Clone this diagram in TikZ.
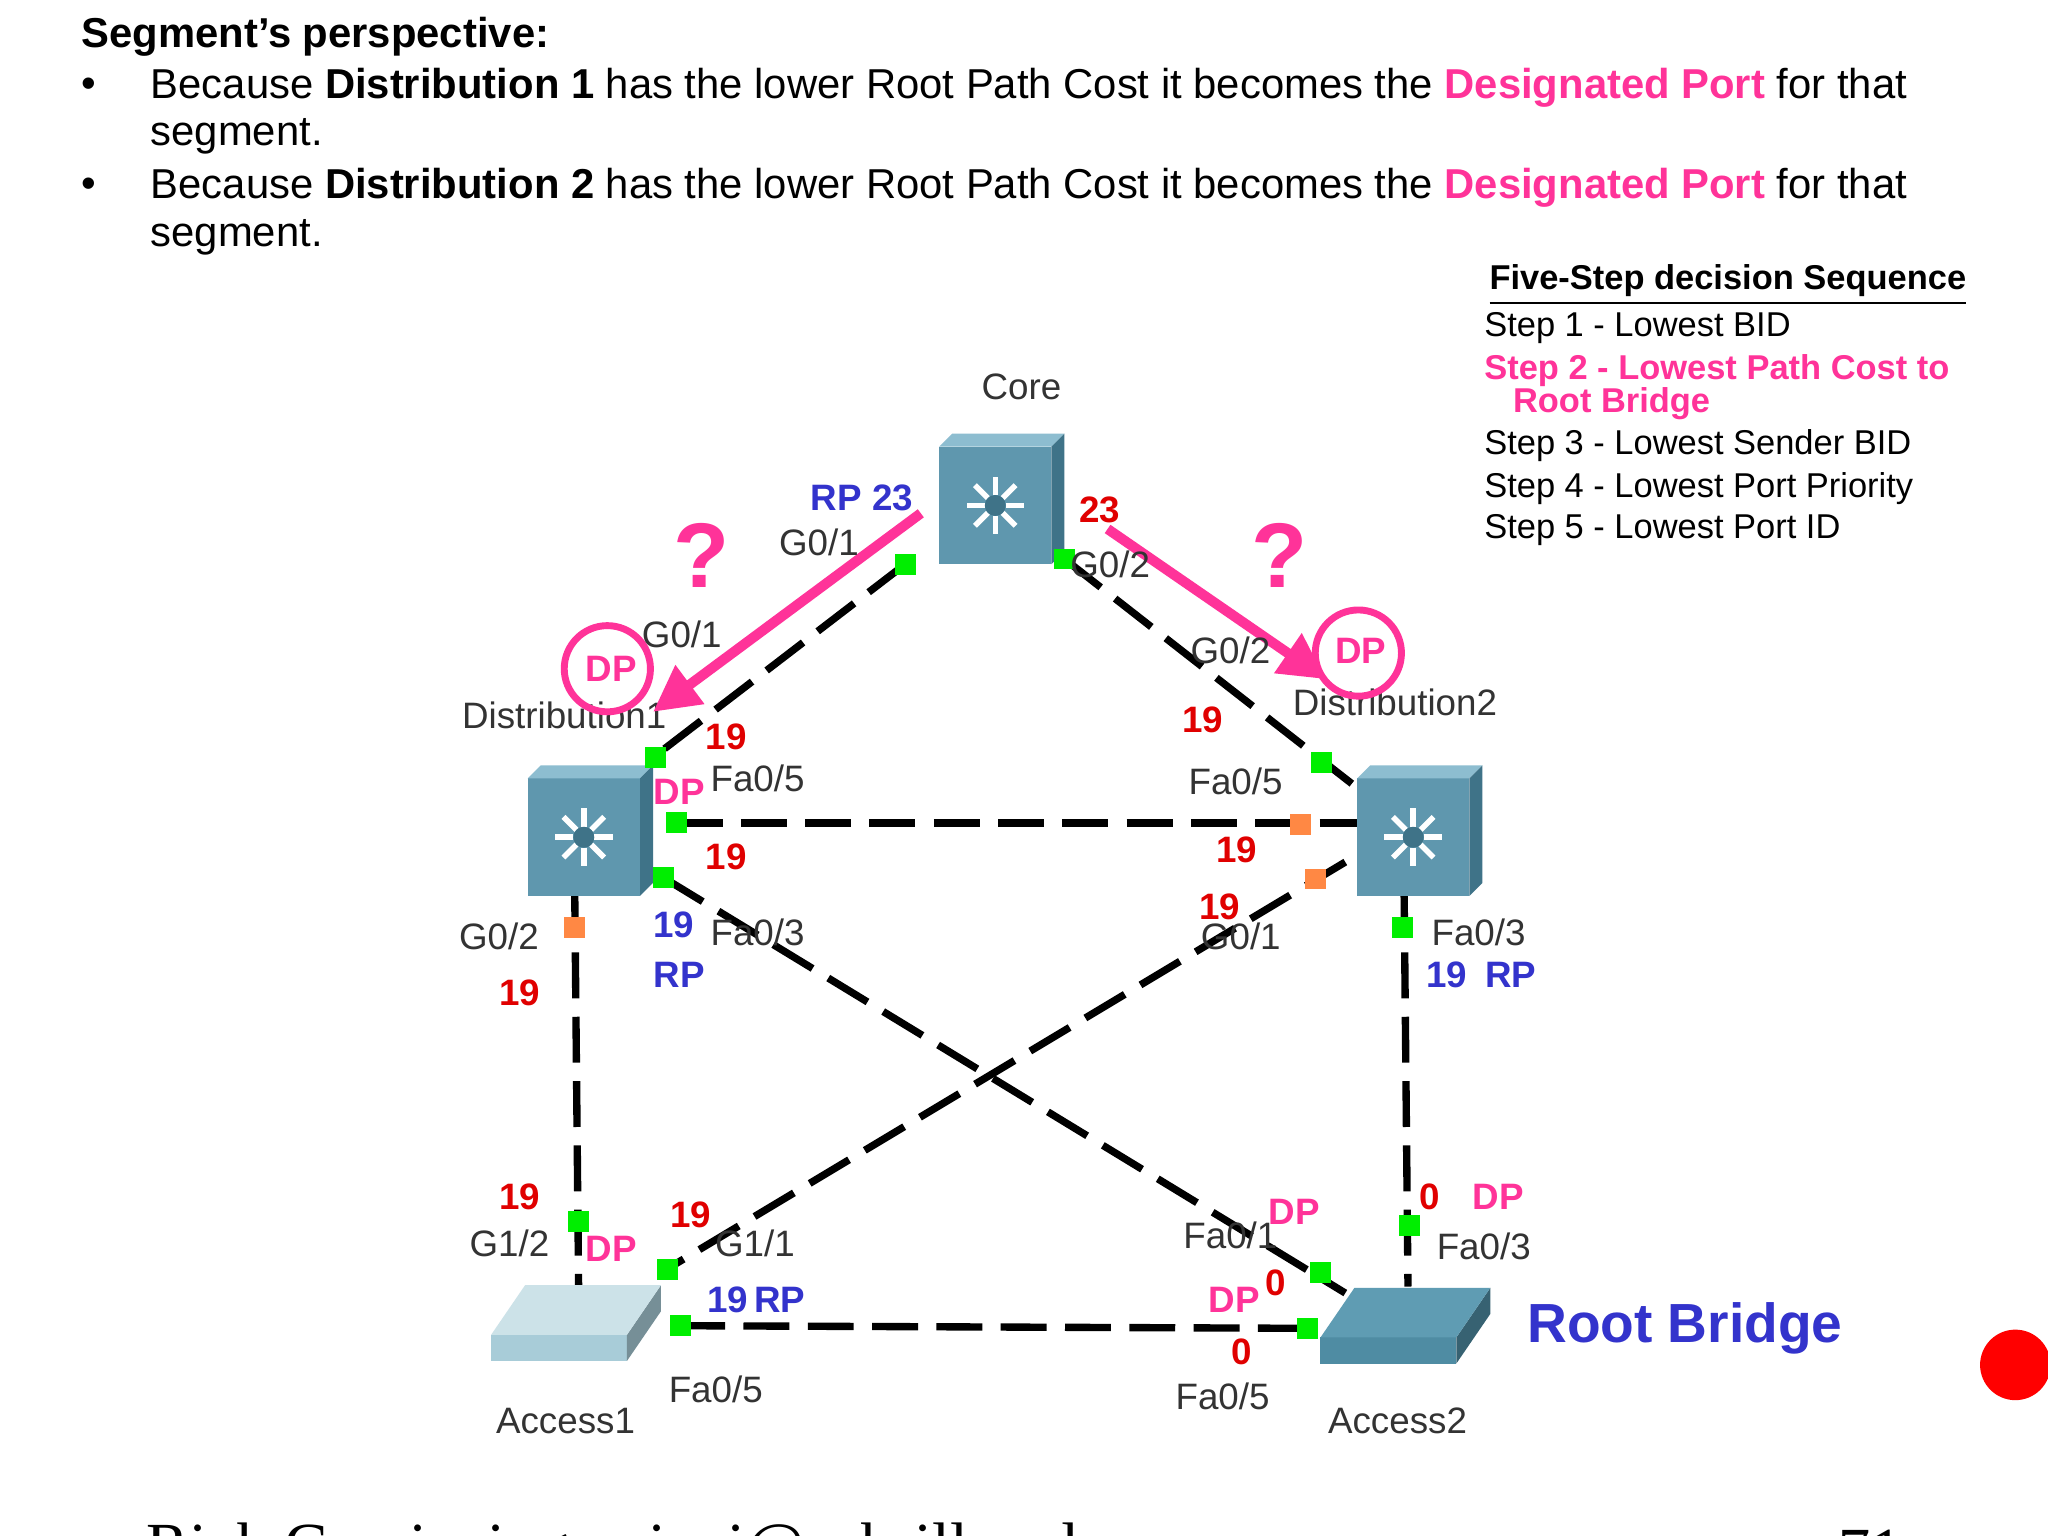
\documentclass[tikz,border=0pt]{standalone}
\usepackage{fontspec}
\setmainfont{Liberation Sans}
\usetikzlibrary{arrows.meta}
\definecolor{pk}{HTML}{FF3399}
\definecolor{bl}{HTML}{3333CC}
\definecolor{rd}{HTML}{E00000}
\definecolor{gr}{HTML}{00EE00}
\definecolor{og}{HTML}{FF8844}
\definecolor{sw}{HTML}{5F97AE}
\definecolor{swt}{HTML}{8DBDD0}
\definecolor{sws}{HTML}{3F7388}
\definecolor{afa}{HTML}{CCE2E8}
\definecolor{afs}{HTML}{A8CCD8}
\definecolor{bfa}{HTML}{5F9CB3}
\definecolor{bfs}{HTML}{4F8CA3}
\begin{document}
\begin{tikzpicture}[x=0.01cm,y=-0.01cm,
  body/.style={font=\fontsize{9.1}{11}\selectfont,anchor=west},
  lab/.style={font=\fontsize{8}{9}\selectfont\bfseries},
  plab/.style={font=\fontsize{8}{9}\selectfont,text=black!80},
  link/.style={line width=1.6pt,dash pattern=on 10pt off 4pt},
  gp/.style={fill=gr,minimum size=0.16cm,inner sep=0pt},
  op/.style={fill=og,minimum size=0.16cm,inner sep=0pt},
  parr/.style={pk,line width=2.2pt,-{Triangle[length=10pt,width=10pt]}}]
\useasboundingbox[clip] (0,0) rectangle (1568,1176);
\fill[white] (0,0) rectangle (1568,1176);
% text
\node[body,font=\fontsize{9.1}{11}\selectfont\bfseries] at (50,28) {Segment’s perspective:};
\node[body] at (50,67) {•};
\node[body] at (103,67) {Because \textbf{Distribution 1} has the lower Root Path Cost it becomes the \textcolor{pk}{\textbf{Designated Port}} for that};
\node[body] at (103,104) {segment.};
\node[body] at (50,144) {•};
\node[body] at (103,144) {Because \textbf{Distribution 2} has the lower Root Path Cost it becomes the \textcolor{pk}{\textbf{Designated Port}} for that};
\node[body] at (103,182) {segment.};
\begin{scope}[every node/.style={anchor=west,font=\fontsize{7.5}{9}\selectfont}]
\node at (1128,218) {\bfseries\underline{Five-Step decision Sequence}};
\node at (1124,251) {Step 1 - Lowest BID};
\node[text=pk,font=\fontsize{7.5}{9}\selectfont\bfseries] at (1124,284) {Step 2 - Lowest Path Cost to};
\node[text=pk,font=\fontsize{7.5}{9}\selectfont\bfseries] at (1146,309) {Root Bridge};
\node at (1124,341) {Step 3 - Lowest Sender BID};
\node at (1124,374) {Step 4 - Lowest Port Priority};
\node at (1124,406) {Step 5 - Lowest Port ID};
\end{scope}
% switches coordinates
\coordinate (core) at (765,378);
\coordinate (d1) at (450,632);
\coordinate (d2) at (1085,632);
\coordinate (a1) at (440,1012);
\coordinate (a2) at (1075,1014);
% links
\draw[link] (693,432) -- (500,580);
\draw[link] (815,428) -- (1035,600);
\draw[link] (518,630) -- (1040,630);
\draw[link] (508,672) -- (1030,990);
\draw[link] (1030,660) -- (510,972);
\draw[link] (440,680) -- (443,985);
\draw[link] (1075,680) -- (1078,985);
\draw[link] (520,1015) -- (1000,1017);
% cubes
\foreach \c in {core,d1,d2}{
 \begin{scope}[shift={(\c)}]
 \fill[sw] (-46,-36) rectangle (40,54);
 \fill[swt] (-46,-36) -- (-36,-46) -- (50,-46) -- (40,-36) -- cycle;
 \fill[sws] (40,-36) -- (50,-46) -- (50,44) -- (40,54) -- cycle;
 \foreach \a in {0,45,...,315}\draw[white,line width=1.2pt] (-3,9)+(\a:8) -- +(\a:22);
 \fill[sws] (-3,9) circle (8);
 \end{scope}}
\foreach \c/\f/\s in {a1/afa/afs,a2/bfa/bfs}{
 \begin{scope}[shift={(\c)}]
 \fill[\s] (-64,10) -- (40,10) -- (40,30) -- (-64,30) -- cycle;
 \fill[\s!70!black] (40,10) -- (66,-28) -- (66,-8) -- (40,30) -- cycle;
 \fill[\f] (-64,10) -- (-38,-28) -- (66,-28) -- (40,10) -- cycle;
 \end{scope}}
\node[plab] at (782,296) {Core};
\node[plab] at (432,548) {Distribution1};
\node[plab] at (1068,538) {Distribution2};
\node[plab] at (433,1088) {Access1};
\node[plab] at (1070,1088) {Access2};
% ports
\foreach \p in {(693,432),(815,428),(502,580),(1012,584),(518,630),(508,672),(1074,710),(443,935),(1079,938),(511,972),(1011,974),(521,1015),(1001,1017)} \node[gp] at \p {};
\foreach \p in {(996,631),(1007,673),(440,710)} \node[op] at \p {};
% arrows
\draw[parr] (705,393) -- (500,545);
\draw[parr] (848,405) -- (1015,520);
\draw[pk,line width=1.5pt] (465,512) circle (33);
\draw[pk,line width=1.5pt] (1040,500) circle (33);
\node[lab,text=pk] at (468,512) {DP};
\node[lab,text=pk] at (1042,498) {DP};
\node[text=pk,font=\fontsize{20}{22}\selectfont\bfseries] at (537,425) {?};
\node[text=pk,font=\fontsize{20}{22}\selectfont\bfseries] at (980,425) {?};
% port labels
\node[plab] at (627,415) {G0/1};
\node[plab] at (850,432) {G0/2};
\node[plab] at (522,486) {G0/1};
\node[plab] at (942,498) {G0/2};
\node[plab] at (580,596) {Fa0/5};
\node[plab] at (946,598) {Fa0/5};
\node[plab] at (580,714) {Fa0/3};
\node[plab] at (382,717) {G0/2};
\node[plab] at (950,717) {G0/1};
\node[plab] at (1132,714) {Fa0/3};
\node[plab] at (390,952) {G1/2};
\node[plab] at (578,952) {G1/1};
\node[plab] at (942,946) {Fa0/1};
\node[plab] at (1136,954) {Fa0/3};
\node[plab] at (548,1064) {Fa0/5};
\node[plab] at (936,1069) {Fa0/5};
% numbers
\node[lab,text=bl] at (660,381) {RP 23};
\node[lab,text=rd] at (842,390) {23};
\node[lab,text=rd] at (556,564) {19};
\node[lab,text=rd] at (921,551) {19};
\node[lab,text=pk] at (520,606) {DP};
\node[lab,text=rd] at (556,656) {19};
\node[lab,text=rd] at (947,651) {19};
\node[lab,text=rd] at (934,694) {19};
\node[lab,text=bl] at (516,708) {19};
\node[lab,text=bl] at (520,746) {RP};
\node[lab,text=rd] at (398,760) {19};
\node[lab,text=bl] at (1134,746) {19\enspace RP};
\node[lab,text=rd] at (398,916) {19};
\node[lab,text=rd] at (529,930) {19};
\node[lab,text=pk] at (468,956) {DP};
\node[lab,text=pk] at (991,928) {DP};
\node[lab,text=rd] at (1095,916) {0};
\node[lab,text=pk] at (1147,916) {DP};
\node[lab,text=bl] at (579,995) {19\,RP};
\node[lab,text=pk] at (945,995) {DP};
\node[lab,text=rd] at (977,982) {0};
\node[lab,text=rd] at (951,1035) {0};
\node[text=bl,font=\fontsize{12}{14}\selectfont\bfseries] at (1290,1017) {Root Bridge};
\fill[red] (1543,1045) circle (27);
\node[font=\fontsize{14}{16}\selectfont,anchor=west] at (100,1188) {\fontspec{Liberation Serif}Rick Graziani \ graziani@cabrillo.edu};
\node[font=\fontsize{14}{16}\selectfont,anchor=west] at (1395,1188) {\fontspec{Liberation Serif}71};
\end{tikzpicture}
\end{document}
